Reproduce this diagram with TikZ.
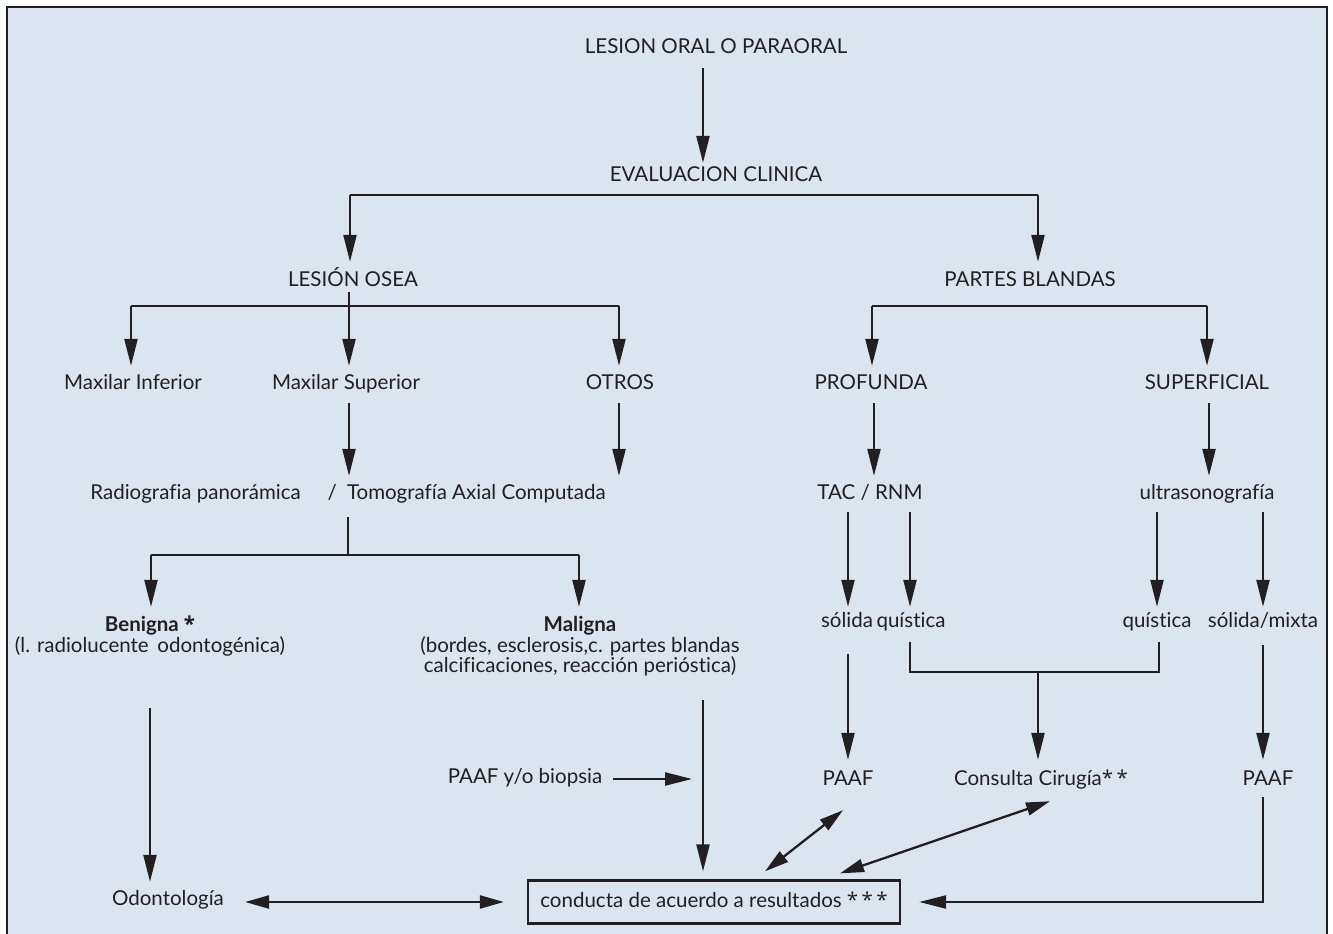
\documentclass[tikz,border=0pt]{standalone}
\usepackage{fontspec}
\setmainfont{Lato}[Ligatures=NoCommon]
\newfontfamily\astfont{Open Sans}
\usetikzlibrary{arrows.meta,calc}
\definecolor{ink}{HTML}{231F20}
\definecolor{bgc}{HTML}{DAE5F0}
\newcommand\fs{\fontsize{20.5}{21}\selectfont}
\newcommand\astk{{\astfont *}}
\begin{document}
\begin{tikzpicture}[x=1pt,y=-1pt,
 lb/.style={text=ink,inner sep=0pt,text height=15pt,text depth=5pt,font=\fs},
 arr/.style={draw=ink,line width=2.3pt,-{Triangle[length=27pt,width=13pt]}},
 sarr/.style={draw=ink,line width=2.3pt,{Triangle[length=24pt,width=13pt]}-{Triangle[length=24pt,width=13pt]}},
 ln/.style={draw=ink,line width=2.3pt}]
\useasboundingbox (0,0) rectangle (1333,934);
\clip (0,0) rectangle (1333,934);
\fill[bgc] (7,7) rectangle (1327,960);
\draw[ink,line width=2.6pt] (7,960) -- (7,7) -- (1327,7) -- (1327,960);

% nodes
\node[lb] (top) at (716,48) {LESION ORAL O PARAORAL};
\node[lb] (eval) at (716,176) {EVALUACION CLINICA};
\node[lb] (osea) at (353,281) {LESIÓN OSEA};
\node[lb] (pb) at (1030,281) {PARTES BLANDAS};
\node[lb] (mi) at (133,384) {Maxilar Inferior};
\node[lb] (ms) at (346,384) {Maxilar Superior};
\node[lb] (otros) at (620,384) {OTROS};
\node[lb] (prof) at (871,384) {PROFUNDA};
\node[lb] (sup) at (1207,384) {SUPERFICIAL};
\node[lb] (rad) at (348,494) {Radiografia panorámica\hspace{1.3em}/\hspace{0.5em}Tomografía Axial Computada};
\node[lb] (tac) at (870,494) {TAC / RNM};
\node[lb] (ultra) at (1207,494) {ultrasonografía};
\node[lb,font=\fs\bfseries] (ben) at (150,626) {Benigna \astk};
\node[lb] (ben2) at (150,647) {(l. radiolucente\, odontogénica)};
\node[lb,font=\fs\bfseries] (mal) at (580,626) {Maligna};
\node[lb] (mal2) at (580,647) {(bordes, esclerosis,c. partes blandas};
\node[lb] (mal3) at (580,667) {calcificaciones, reacción perióstica)};
\node[lb] (sol) at (847,622) {sólida};
\node[lb] (qui1) at (911,622) {quística};
\node[lb] (qui2) at (1157,622) {quística};
\node[lb] (sm) at (1263,622) {sólida/mixta};
\node[lb] (paafb) at (525,778) {PAAF y/o biopsia};
\node[lb] (paaf1) at (848,780) {PAAF};
\node[lb] (cons) at (1041,780) {Consulta Cirugía\astk\,\astk};
\node[lb] (paaf2) at (1268,780) {PAAF};
\node[lb] (odon) at (168,900) {Odontología};
\node[lb,draw=ink,line width=2.3pt,minimum width=372pt,minimum height=43pt] (box) at (714,902) {conducta de acuerdo a resultados \astk\,\astk\,\astk};
\coordinate (pbend) at (692,779);

% connectors
\draw[arr] ($(top.south)+(-13,10)$) -- ($(eval.north)+(-13,-3)$);
\draw[arr] ($(eval.south)+(-366,9)$) -- ($(osea.north)+(-3,-9)$);
\draw[ln] ($(eval.south)+(-366,9)$) -- ($(eval.south)+(322,9)$);
\draw[arr] ($(eval.south)+(322,9)$) -- ($(pb.north)+(8,-9)$);

\draw[ln] ($(osea.south)+(-4,1)$) -- ($(osea.south)+(-4,15)$);
\draw[ln] ($(mi.north)+(-2,-68)$) -- ($(otros.north)+(-1,-68)$);
\draw[arr] ($(mi.north)+(-2,-68)$) -- ($(mi.north)+(-2,-8)$);
\draw[arr] ($(osea.south)+(-4,15)$) -- ($(ms.north)+(3,-8)$);
\draw[arr] ($(otros.north)+(-1,-68)$) -- ($(otros.north)+(-1,-8)$);

\draw[ln] ($(prof.north)+(1,-68)$) -- ($(sup.north)+(0,-68)$);
\draw[arr] ($(prof.north)+(1,-68)$) -- ($(prof.north)+(1,-8)$);
\draw[arr] ($(sup.north)+(0,-68)$) -- ($(sup.north)+(0,-8)$);

\draw[arr] ($(ms.south)+(3,9)$) -- ($(rad.north)+(1,-8)$);
\draw[arr] ($(otros.south)+(-1,9)$) -- ($(rad.north)+(271,-8)$);
\draw[arr] ($(prof.south)+(3,9)$) -- ($(tac.north)+(4,-8)$);
\draw[arr] ($(sup.south)+(2,9)$) -- ($(ultra.north)+(2,-8)$);

\draw[ln] ($(rad.south)+(0,13)$) -- ($(rad.south)+(0,51)$);
\draw[ln] ($(ben.north)+(1,-61)$) -- ($(mal.north)+(-1,-61)$);
\draw[arr] ($(ben.north)+(1,-61)$) -- ($(ben.north)+(1,-9)$);
\draw[arr] ($(mal.north)+(-1,-61)$) -- ($(mal.north)+(-1,-9)$);

\draw[arr] ($(tac.south)+(-22,8)$) -- ($(sol.north)+(1,-5)$);
\draw[arr] ($(tac.south)+(40,8)$) -- ($(qui1.north)+(-1,-5)$);
\draw[arr] ($(ultra.south)+(-50,8)$) -- ($(qui2.north)+(0,-5)$);
\draw[arr] ($(ultra.south)+(56,8)$) -- ($(sm.north)+(0,-5)$);

\draw[arr] ($(sol.south)+(1,22)$) -- ($(paaf1.north)+(0,-10)$);
\draw[ln] ($(qui1.south)+(-1,10)$) |- ($(qui2.south)+(2,40)$) -- ($(qui2.south)+(2,10)$);
\draw[arr] ($(cons.north)+(-3,-98)$) -- ($(cons.north)+(-3,-10)$);
\draw[arr] ($(sm.south)+(0,13)$) -- ($(paaf2.north)+(-5,-10)$);

\draw[arr] ($(ben2.south)+(0,51)$) -- ($(odon.north)+(-18,-8)$);
\draw[arr] ($(mal3.south)+(123,23)$) -- ($(box.north)+(-11,-8)$);
\draw[arr] ($(paafb.east)+(11,1)$) -- (pbend);

\draw[sarr] ($(odon.east)+(21,2)$) -- ($(box.west)+(-23,0)$);
\draw[sarr] ($(box.north)+(51,-8)$) -- ($(paaf1.south)+(-5,20)$);
\draw[sarr] ($(box.north)+(126,-6)$) -- ($(cons.south)+(9,11)$);
\draw[arr] ($(paaf2.south)+(-5,7)$) |- ($(box.east)+(18,0)$);
\end{tikzpicture}
\end{document}
